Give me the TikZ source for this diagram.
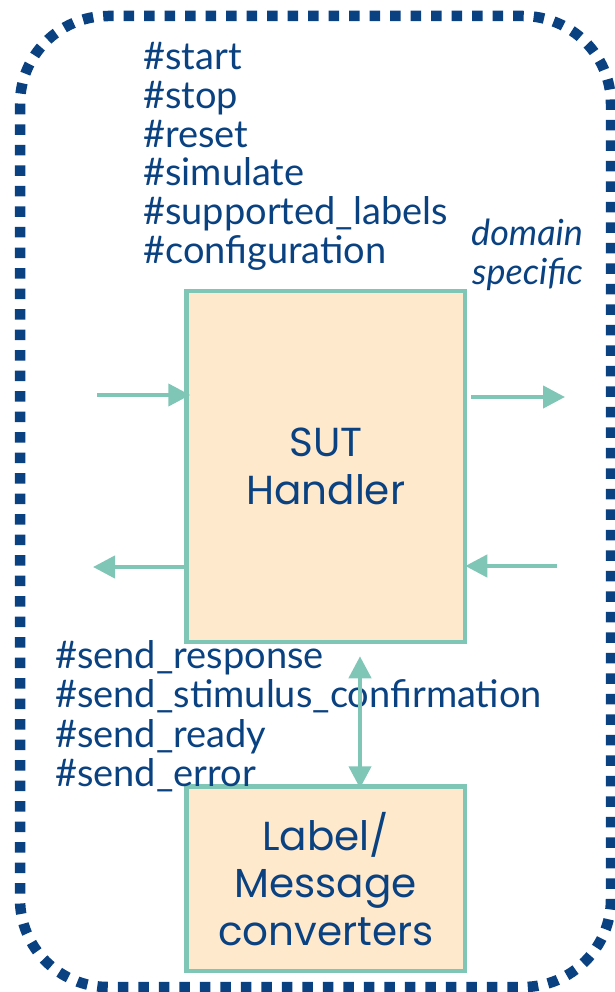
\documentclass[tikz,border=0pt]{standalone}
\usepackage{fontspec}
\setmainfont{Lato}
\newfontfamily\boxfont{Poppins}
\usetikzlibrary{arrows.meta}
\definecolor{navy}{HTML}{0A4281}
\definecolor{teal}{HTML}{7FC6B7}
\definecolor{peach}{HTML}{FEE9CD}
\begin{document}
\begin{tikzpicture}[x=1pt,y=-1pt,
  block/.style={draw=teal, fill=peach, line width=4.5pt, inner sep=0pt,
    minimum width=278.5pt, text=navy, align=center,
    font=\boxfont\fontsize{40.5}{47.5}\selectfont},
  tag/.style={anchor=base west, inner sep=0pt, text=navy,
    font=\fontsize{38}{38}\selectfont},
  note/.style={tag, font=\itshape\fontsize{36}{39}\selectfont},
  flow/.style={draw=teal, line width=4.3pt,
    -{Triangle[length=22pt,width=22pt]}},
  both/.style={draw=teal, line width=4.3pt,
    {Triangle[length=22pt,width=22pt]}-{Triangle[length=22pt,width=22pt]}}]
\useasboundingbox (0,0) rectangle (614,992);

% dotted frame around the component
\draw[navy, line width=10.5pt, dash pattern=on 10.5pt off 10pt,
      rounded corners=88pt] (20,16) rectangle (611,987);

% blocks
\node[block, minimum height=351pt] (sut) at (325.75,466.5) {SUT\\Handler};
\node[block, minimum height=184.5pt] (conv) at (325.75,878.75)
  {Label/\\Message\\converters};

% commands received by the handler
\foreach \t [count=\i] in {\#start,\#stop,\#reset,\#simulate,
    \#supported\_labels,\#configuration}
  \node[tag] (cmd\i) at (143,{70+38.6*(\i-1)}) {\t};

% italic note on the right
\node[note] (dom1) at (471,245) {domain};
\node[note] (dom2) at (472,284) {specific};

% messages sent back
\foreach \t [count=\i] in {\#send\_response,\#send\_stimulus\_confirmation,
    \#send\_ready,\#send\_error}
  \node[tag] (msg\i) at (55,{668+39.5*(\i-1)}) {\t};

% side connectors
\coordinate (inL)  at (97,395);
\coordinate (outR) at (565,397);
\coordinate (outL) at (93,567);
\coordinate (inR)  at (557,566);
\coordinate (vx)   at (360,0);

\draw[flow, shorten >=-6pt] (inL) -- (inL -| sut.west);
\draw[flow, shorten <=4pt] (outR -| sut.east) -- (outR);
\draw[flow] (outL -| sut.west) -- (outL);
\draw[flow, shorten >=-2pt] (inR) -- (inR -| sut.east);

% link between handler and converters
\draw[both, shorten <=12pt, shorten >=-4pt] (vx |- sut.south) -- (vx |- conv.north);
\end{tikzpicture}
\end{document}
